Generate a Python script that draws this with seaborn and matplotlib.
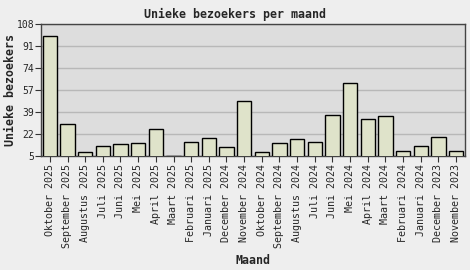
import matplotlib
matplotlib.use("Agg")
import matplotlib.pyplot as plt
import seaborn as sns
import pandas as pd

months = ["Oktober 2025", "September 2025", "Augustus 2025", "Juli 2025", "Juni 2025",
          "Mei 2025", "April 2025", "Maart 2025", "Februari 2025", "Januari 2025",
          "December 2024", "November 2024", "Oktober 2024", "September 2024",
          "Augustus 2024", "Juli 2024", "Juni 2024", "Mei 2024", "April 2024",
          "Maart 2024", "Februari 2024", "Januari 2024", "December 2023", "November 2023"]
visitors = [99, 30, 8, 13, 14, 15, 26, 5, 16, 19, 12, 48,
            8, 15, 18, 16, 37, 62, 34, 36, 9, 13, 20, 9]
yticks = [5, 22, 39, 57, 74, 91, 108]

df = pd.DataFrame({"Maand": months, "Bezoekers": visitors})

sns.set_theme(style="white")
plt.rcParams["font.family"] = ["DejaVu Sans Mono", "DejaVu Sans"]

fig = plt.figure(figsize=(4.7, 2.7), dpi=100, facecolor="#EEEEEE")
ax = fig.add_axes([41/470, 1-156/270, 424/470, 132/270])
ax.set_facecolor("#DDDDDD")

sns.barplot(data=df, x="Maand", y="Bezoekers", order=months, color="#DFE3CA",
            saturation=1, width=0.8, edgecolor="black", linewidth=1.0, ax=ax, zorder=3)

ax.set_ylim(5, 108)
ax.set_xlim(-0.5, len(months) - 0.5)
ax.set_yticks([5 + i * 103 / 6 for i in range(7)])
ax.set_yticklabels([str(t) for t in yticks], fontsize=7)
ax.yaxis.grid(True, color="#B8B8B8", linewidth=1, zorder=0)
ax.set_axisbelow(True)
ax.tick_params(axis="x", labelrotation=90, labelsize=7.2, length=4, width=0.8,
               color="#333333", pad=2, bottom=True)
ax.tick_params(axis="y", length=4, width=0.8, color="#333333", pad=1, left=True)
for s in ax.spines.values():
    s.set_color("#444444")
    s.set_linewidth(1)

ax.set_xlabel("Maand", fontsize=8.4, fontweight="bold", labelpad=4)
ax.set_ylabel("Unieke bezoekers", fontsize=8.4, fontweight="bold")
ax.yaxis.set_label_coords(-0.057, 0.5)
fig.suptitle("Unieke bezoekers per maand", fontsize=8.4, fontweight="bold", y=0.97)

fig.savefig("out.png", dpi=100, facecolor=fig.get_facecolor())
